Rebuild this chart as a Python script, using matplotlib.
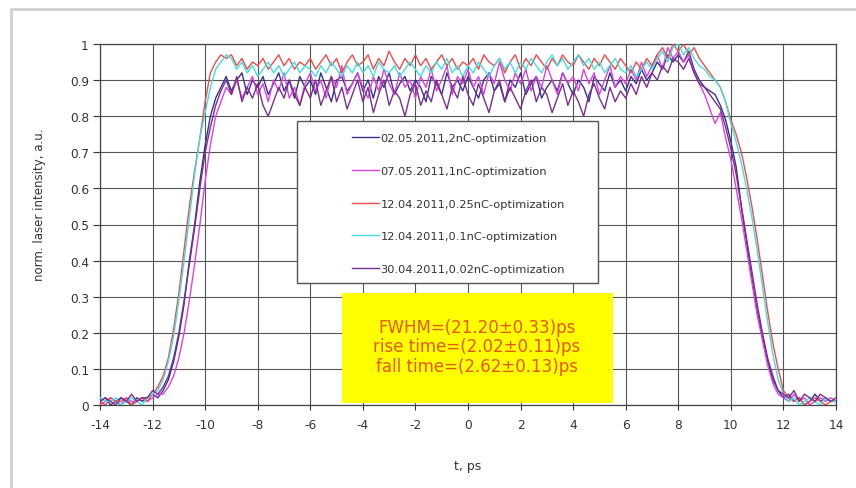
import numpy as np
import matplotlib
matplotlib.use("Agg")
from matplotlib import pyplot as plt
from matplotlib.patches import Rectangle

# time axis, ps (sampled every 0.2 ps)
t = np.round(np.arange(-14, 14.001, 0.2), 1)

# normalised laser intensity, one row per 2 ps
nc_2 = [
    0.01, 0.02, 0.00, 0.01, 0.02, 0.01, 0.00, 0.02, 0.01, 0.02,
    0.03, 0.02, 0.04, 0.07, 0.12, 0.19, 0.28, 0.40, 0.50, 0.62,
    0.72, 0.80, 0.85, 0.88, 0.91, 0.87, 0.90, 0.92, 0.86, 0.90,
    0.88, 0.91, 0.86, 0.89, 0.92, 0.87, 0.90, 0.85, 0.91, 0.88,
    0.90, 0.86, 0.92, 0.88, 0.84, 0.90, 0.91, 0.87, 0.89, 0.92,
    0.87, 0.90, 0.85, 0.91, 0.88, 0.92, 0.86, 0.89, 0.91, 0.87,
    0.90, 0.88, 0.84, 0.91, 0.89, 0.86, 0.92, 0.88, 0.90, 0.87,
    0.91, 0.88, 0.85, 0.90, 0.92, 0.87, 0.89, 0.84, 0.90, 0.88,
    0.92, 0.86, 0.89, 0.91, 0.85, 0.88, 0.90, 0.87, 0.92, 0.89,
    0.86, 0.90, 0.88, 0.84, 0.91, 0.89, 0.87, 0.92, 0.88, 0.90,
    0.87, 0.91, 0.89, 0.93, 0.90, 0.92, 0.95, 0.93, 0.97, 0.95,
    0.97, 0.95, 0.98, 0.93, 0.90, 0.88, 0.87, 0.86, 0.83, 0.79,
    0.73, 0.66, 0.55, 0.45, 0.35, 0.26, 0.19, 0.12, 0.07, 0.04,
    0.02, 0.03, 0.01, 0.02, 0.00, 0.01, 0.03, 0.01, 0.02, 0.01,
    0.01,
]
nc_1 = [
    0.00, 0.01, 0.02, 0.01, 0.00, 0.02, 0.01, 0.01, 0.02, 0.01,
    0.02, 0.03, 0.03, 0.05, 0.08, 0.13, 0.20, 0.29, 0.39, 0.50,
    0.62, 0.72, 0.80, 0.84, 0.88, 0.86, 0.90, 0.85, 0.88, 0.91,
    0.86, 0.89, 0.84, 0.90, 0.87, 0.92, 0.85, 0.88, 0.83, 0.89,
    0.92, 0.87, 0.90, 0.85, 0.91, 0.88, 0.94, 0.86, 0.89, 0.92,
    0.88, 0.85, 0.91, 0.87, 0.93, 0.89, 0.86, 0.92, 0.88, 0.90,
    0.85, 0.91, 0.88, 0.93, 0.87, 0.90, 0.94, 0.86, 0.91, 0.89,
    0.93, 0.88, 0.91, 0.86, 0.92, 0.89, 0.95, 0.90, 0.87, 0.92,
    0.89, 0.93, 0.87, 0.91, 0.88, 0.94, 0.90, 0.86, 0.92, 0.89,
    0.91, 0.87, 0.93, 0.89, 0.92, 0.86, 0.90, 0.94, 0.88, 0.91,
    0.89, 0.93, 0.90, 0.95, 0.91, 0.94, 0.97, 0.93, 0.99, 0.96,
    0.98, 0.95, 0.97, 0.92, 0.89, 0.86, 0.82, 0.78, 0.81, 0.74,
    0.68, 0.60, 0.52, 0.43, 0.34, 0.25, 0.18, 0.11, 0.06, 0.03,
    0.02, 0.01, 0.03, 0.01, 0.02, 0.00, 0.01, 0.02, 0.01, 0.02,
    0.01,
]
nc_025 = [
    0.01, 0.00, 0.02, 0.01, 0.01, 0.02, 0.00, 0.01, 0.02, 0.01,
    0.03, 0.05, 0.08, 0.13, 0.21, 0.31, 0.43, 0.55, 0.65, 0.74,
    0.84, 0.92, 0.95, 0.97, 0.96, 0.97, 0.94, 0.96, 0.93, 0.95,
    0.94, 0.96, 0.93, 0.95, 0.97, 0.94, 0.96, 0.93, 0.95, 0.94,
    0.96, 0.93, 0.95, 0.97, 0.94, 0.96, 0.92, 0.95, 0.97, 0.94,
    0.95, 0.97, 0.93, 0.96, 0.94, 0.98, 0.95, 0.93, 0.96, 0.94,
    0.97, 0.94, 0.96, 0.93, 0.95, 0.97, 0.94, 0.96, 0.93, 0.95,
    0.94, 0.96, 0.93, 0.97, 0.95, 0.94, 0.96, 0.92, 0.95, 0.97,
    0.93, 0.96, 0.94, 0.97, 0.95, 0.93, 0.96, 0.94, 0.97, 0.95,
    0.94, 0.97, 0.95, 0.93, 0.96, 0.94, 0.97, 0.95, 0.93, 0.96,
    0.94, 0.92, 0.95, 0.93, 0.96, 0.94, 0.97, 0.99, 0.96, 1.00,
    0.98, 1.00, 0.97, 0.99, 0.96, 0.94, 0.92, 0.90, 0.88, 0.84,
    0.79, 0.75, 0.70, 0.63, 0.55, 0.46, 0.36, 0.26, 0.17, 0.10,
    0.04, 0.02, 0.01, 0.02, 0.00, 0.01, 0.02, 0.01, 0.00, 0.01,
    0.01,
]
nc_01 = [
    0.02, 0.01, 0.01, 0.02, 0.00, 0.01, 0.02, 0.01, 0.00, 0.02,
    0.03, 0.04, 0.07, 0.12, 0.19, 0.29, 0.40, 0.52, 0.64, 0.74,
    0.81, 0.88, 0.93, 0.95, 0.97, 0.96, 0.93, 0.95, 0.92, 0.94,
    0.91, 0.93, 0.95, 0.92, 0.94, 0.91, 0.93, 0.95, 0.92, 0.94,
    0.93, 0.91, 0.94, 0.92, 0.95, 0.93, 0.91, 0.94, 0.92, 0.95,
    0.92, 0.94, 0.91, 0.95, 0.93, 0.92, 0.94, 0.91, 0.93, 0.95,
    0.93, 0.91, 0.94, 0.92, 0.95, 0.93, 0.96, 0.92, 0.94, 0.91,
    0.94, 0.92, 0.95, 0.93, 0.91, 0.94, 0.96, 0.93, 0.95, 0.92,
    0.95, 0.93, 0.96, 0.94, 0.92, 0.95, 0.97, 0.94, 0.96, 0.93,
    0.95, 0.97, 0.94, 0.96, 0.93, 0.95, 0.92, 0.94, 0.96, 0.93,
    0.92, 0.94, 0.91, 0.93, 0.95, 0.93, 0.96, 0.98, 0.95, 0.99,
    1.00, 0.97, 0.99, 0.96, 0.94, 0.93, 0.91, 0.90, 0.88, 0.84,
    0.78, 0.73, 0.67, 0.60, 0.52, 0.43, 0.33, 0.23, 0.14, 0.07,
    0.03, 0.01, 0.02, 0.00, 0.01, 0.02, 0.01, 0.00, 0.02, 0.01,
    0.01,
]
nc_002 = [
    0.01, 0.02, 0.01, 0.00, 0.02, 0.01, 0.03, 0.01, 0.02, 0.02,
    0.04, 0.03, 0.05, 0.08, 0.13, 0.20, 0.29, 0.39, 0.49, 0.60,
    0.70, 0.77, 0.83, 0.87, 0.90, 0.86, 0.91, 0.84, 0.88, 0.85,
    0.89, 0.83, 0.80, 0.84, 0.88, 0.85, 0.90, 0.86, 0.83, 0.88,
    0.85, 0.90, 0.83, 0.87, 0.91, 0.84, 0.88, 0.82, 0.86, 0.90,
    0.84, 0.88, 0.81, 0.86, 0.90, 0.83, 0.87, 0.85, 0.80, 0.86,
    0.89, 0.83, 0.87, 0.84, 0.90, 0.86, 0.82, 0.88, 0.85, 0.91,
    0.86, 0.83, 0.89, 0.85, 0.81, 0.87, 0.90, 0.84, 0.88, 0.85,
    0.82, 0.87, 0.90, 0.84, 0.88, 0.86, 0.81, 0.85, 0.89, 0.83,
    0.87, 0.84, 0.80, 0.86, 0.89, 0.85, 0.82, 0.88, 0.84, 0.87,
    0.85, 0.89, 0.86, 0.91, 0.88, 0.92, 0.90, 0.94, 0.92, 0.96,
    0.95, 0.93, 0.96, 0.92, 0.89, 0.88, 0.86, 0.84, 0.82, 0.77,
    0.71, 0.64, 0.55, 0.46, 0.37, 0.28, 0.20, 0.13, 0.08, 0.04,
    0.03, 0.02, 0.04, 0.01, 0.03, 0.02, 0.01, 0.03, 0.02, 0.01,
    0.02,
]

labels = [
    "02.05.2011,2nC-optimization",
    "07.05.2011,1nC-optimization",
    "12.04.2011,0.25nC-optimization",
    "12.04.2011,0.1nC-optimization",
    "30.04.2011,0.02nC-optimization",
]
series = [nc_2, nc_1, nc_025, nc_01, nc_002]
colors = ["#33338f", "#e040e0", "#f04a4a", "#3ee0e0", "#7a2f8f"]

stats = [
    "FWHM=(21.20\u00b10.33)ps",
    "rise time=(2.02\u00b10.11)ps",
    "fall time=(2.62\u00b10.13)ps",
]

plt.rcParams["font.family"] = "DejaVu Sans"
plt.rcParams["axes.unicode_minus"] = False
fig = plt.figure(figsize=(8.56, 4.89), dpi=100)
ax = fig.add_axes([100 / 856, 1 - 406 / 489, 736 / 856, 361 / 489])

# thin gray frame round the whole chart
fig.patches.append(Rectangle((11 / 856, -0.1), 1.2, 1.1 - 10 / 489,
                             transform=fig.transFigure, fill=False,
                             ec="#cfcfcf", lw=2))

for y, lab, col in zip(series, labels, colors):
    ax.plot(t, y, color=col, lw=1.0, label=lab, zorder=3)

ax.set_xlim(-14, 14)
ax.set_ylim(0, 1)
ax.set_xticks(np.arange(-14, 15, 2))
ax.set_yticks(np.round(np.arange(0, 1.01, 0.1), 1))
ax.set_yticklabels(["0"] + ["%.1f" % v for v in np.arange(0.1, 0.95, 0.1)] + ["1"])
ax.grid(True, color="#555555", lw=0.8)
ax.set_axisbelow(True)
for s in ax.spines.values():
    s.set_color("#444444")
    s.set_linewidth(0.9)
ax.tick_params(axis="x", length=3.5, pad=6, labelsize=8.7, colors="#333333")
ax.tick_params(axis="y", length=5, pad=3, labelsize=8.7, colors="#333333")

ax.set_xlabel("t, ps", fontsize=9, color="#333333", labelpad=20)
fig.text(40 / 856, 1 - 205 / 489, "norm. laser intensity, a.u.", rotation=90,
         ha="center", va="center", fontsize=8.5, color="#333333")

# legend box drawn separately, entries inside it without frame
ax.add_patch(Rectangle((197 / 736, 122 / 361), 301 / 736, 162 / 361,
                       transform=ax.transAxes, fc="white", ec="#555555",
                       lw=1.0, zorder=4))
leg = ax.legend(loc="upper left", bbox_to_anchor=(252 / 736, 1 - 89 / 361),
                frameon=False, fontsize=8.2, handlelength=2.4,
                handletextpad=0.1, labelspacing=2.0, borderpad=0,
                borderaxespad=0)
leg.set_zorder(5)
for txt in leg.get_texts():
    txt.set_color("#333333")

# yellow results box
ax.add_patch(Rectangle((242 / 736, 2 / 361), 271 / 736, 110 / 361,
                       transform=ax.transAxes, fc="#ffff00", ec="none",
                       zorder=4))
for i, s in enumerate(stats):
    ax.text(377 / 736, (78 - 19.5 * i) / 361, s, transform=ax.transAxes,
            ha="center", va="center", fontsize=12, color="#e8560c", zorder=5)

fig.savefig("out.png", dpi=100)
